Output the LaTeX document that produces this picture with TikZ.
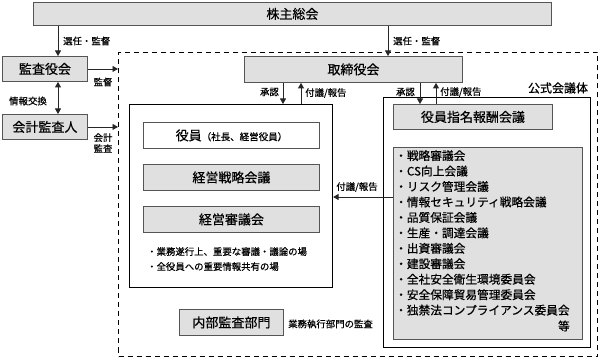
\documentclass[tikz,border=0pt]{standalone}
\usepackage{fontspec}
\setmainfont{Noto Sans CJK JP}[FakeBold=0.5]
\usetikzlibrary{arrows.meta}
\definecolor{boxgray}{HTML}{E0E0E0}
\definecolor{edge}{HTML}{555555}
\begin{document}
\begin{tikzpicture}[x=1pt,y=-1pt,
  gbox/.style={draw=edge, fill=boxgray, line width=0.9pt, inner sep=0pt, anchor=north west, font=\fontsize{13}{15}\selectfont},
  wbox/.style={draw=black, line width=1.1pt, inner sep=0pt, anchor=north west},
  arr/.style={-{Triangle[length=5.5pt,width=6pt]}, line width=0.8pt, draw=black!85},
  darr/.style={{Triangle[length=5.5pt,width=6pt]}-{Triangle[length=5.5pt,width=6pt]}, line width=0.8pt, draw=black!85},
  lab/.style={font=\fontsize{9.4}{11}\selectfont, inner sep=0pt},
  list/.style={font=\fontsize{11.7}{15.45}\selectfont, inner sep=0pt, align=left, anchor=north west},
]
\useasboundingbox (0,0) rectangle (602,358);
% outer dashed frame
\node[draw=black, line width=1pt, dash pattern=on 5pt off 4pt, anchor=north west, minimum width=479pt, minimum height=304pt, inner sep=0pt] (outer) at (118,52) {};
% top
\node[gbox, minimum width=518pt, minimum height=23pt] (sh) at (33,2) {株主総会};
\node[gbox, minimum width=85pt, minimum height=25pt] (kansa) at (2,56) {監査役会};
\node[gbox, minimum width=85pt, minimum height=25pt] (kaikei) at (2,114) {会計監査人};
\node[gbox, minimum width=218pt, minimum height=26pt] (tori) at (244,56) {取締役会};
% left box
\node[wbox, minimum width=203pt, minimum height=183pt] (leftbox) at (129,104) {};
\node[gbox, fill=white, minimum width=176pt, minimum height=26pt] (yakuin) at (143,122) {役員{\fontsize{9.5}{11}\selectfont （社長、経営役員）}};
\node[gbox, minimum width=176pt, minimum height=26pt] (senryaku) at (143,164) {経営戦略会議};
\node[gbox, minimum width=176pt, minimum height=26pt] (shingi) at (143,206) {経営審議会};
\node[lab, align=left, anchor=north west, font=\fontsize{9.4}{15}\selectfont] (bul) at (147,247) {・業務遂行上、重要な審議・議論の場\\・全役員への重要情報共有の場};
% internal audit
\node[gbox, minimum width=104pt, minimum height=26pt] (naibu) at (179,309) {内部監査部門};
\node[lab, anchor=west] (naibulab) at (288,324) {業務執行部門の監査};
% right box
\node[wbox, minimum width=207pt, minimum height=250pt] (rightbox) at (383,97) {};
\node[font=\fontsize{12}{14}\selectfont, inner sep=0pt] (koushiki) at (558,88) {公式会議体};
\node[gbox, minimum width=159pt, minimum height=25pt] (shimei) at (393,104) {役員指名報酬会議};
\node[gbox, minimum width=189pt, minimum height=192pt] (listbox) at (393,147) {};
\node[list] (items) at (395,150) {・戦略審議会\\・CS向上会議\\・リスク管理会議\\・情報セキュリティ戦略会議\\・品質保証会議\\・生産・調達会議\\・出資審議会\\・建設審議会\\・全社安全衛生環境委員会\\・安全保障貿易管理委員会\\・独禁法コンプライアンス委員会};
\node[font=\fontsize{11.7}{14}\selectfont, inner sep=0pt, anchor=east] (tou) at (570,326) {等};
% helper coordinates
\coordinate (cA) at (58,0);
\coordinate (cB) at (388,0);
\coordinate (cC) at (283,0);
\coordinate (cD) at (301,0);
\coordinate (cE) at (420,0);
\coordinate (cF) at (436,0);
\coordinate (cG) at (0,197);
% connectors
\draw[arr] (sh.south -| cA) -- (kansa.north -| cA);
\draw[arr] (sh.south -| cB) -- (tori.north -| cB);
\draw[darr] (kansa.south -| cA) -- (kaikei.north -| cA);
\draw[arr] (kansa.east) -- (kansa.east -| outer.west);
\draw[arr] (kaikei.east) -- (kaikei.east -| outer.west);
\draw[arr] (tori.south -| cC) -- (leftbox.north -| cC);
\draw[arr] (leftbox.north -| cD) -- (tori.south -| cD);
\draw[arr] (tori.south -| cE) -- (shimei.north -| cE);
\draw[arr] (shimei.north -| cF) -- (tori.south -| cF);
\draw[arr] (listbox.west |- cG) -- (leftbox.east |- cG);
% labels
\node[lab, anchor=west] (l1) at (63,41) {選任・監督};
\node[lab, anchor=west] (l2) at (393,41) {選任・監督};
\node[lab] (l3) at (28,101) {情報交換};
\node[lab] (l4) at (103,82) {監督};
\node[lab, align=center, font=\fontsize{9.4}{11}\selectfont] (l5) at (103,143) {会計\\監査};
\node[lab, anchor=east] (l6) at (279,92) {承認};
\node[lab, anchor=west] (l7) at (305,93) {付議/報告};
\node[lab, anchor=east] (l8) at (415,92) {承認};
\node[lab, anchor=west] (l9) at (440,92) {付議/報告};
\node[lab] (l10) at (357,187) {付議/報告};
\end{tikzpicture}
\end{document}
